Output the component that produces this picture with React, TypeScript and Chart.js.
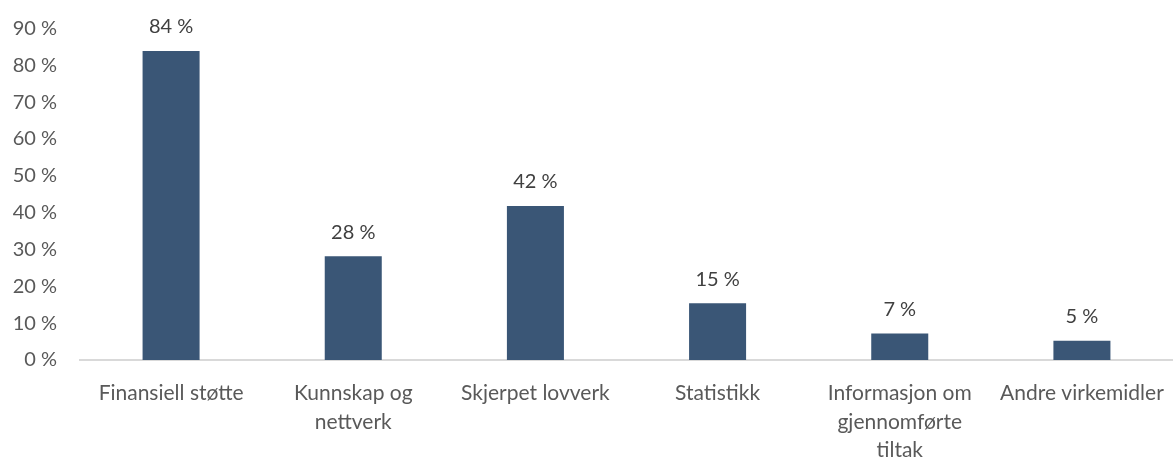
import React, { useEffect, useRef } from "react";
import { Chart, registerables } from "chart.js";

Chart.register(...registerables);

const categories: (string | string[])[] = [
  "Finansiell støtte",
  ["Kunnskap og", "nettverk"],
  "Skjerpet lovverk",
  "Statistikk",
  ["Informasjon om", "gjennomførte", "tiltak"],
  "Andre virkemidler",
];
const values = [83.9, 28.2, 41.8, 15.4, 7.2, 5.2];
const yTicks = [0, 10, 20, 30, 40, 50, 60, 70, 80, 90];

const FONT = "Lato, 'Open Sans', sans-serif";

export default function App() {
  const ref = useRef<HTMLCanvasElement | null>(null);
  useEffect(() => {
    document.body.style.margin = "0";
    const labelPlugin = {
      id: "valLabels",
      afterDatasetsDraw(chart: any) {
        const ctx = chart.ctx;
        const meta = chart.getDatasetMeta(0);
        ctx.save();
        ctx.fillStyle = "#404040";
        ctx.font = `20px ${FONT}`;
        ctx.textAlign = "center";
        ctx.textBaseline = "middle";
        meta.data.forEach((el: any, i: number) => {
          ctx.fillText(Math.round(values[i]) + " %", el.x, el.y - 24);
        });
        ctx.restore();
      },
    };
    const chart = new Chart(ref.current!, {
      type: "bar",
      data: {
        labels: categories,
        datasets: [
          {
            data: values,
            backgroundColor: "#3A5676",
            borderWidth: 0,
            categoryPercentage: 1,
            barPercentage: 0.313,
          },
        ],
      },
      options: {
        animation: false,
        responsive: false,
        maintainAspectRatio: false,
        layout: { padding: { top: 28.5, right: 0, left: 0, bottom: 0 } },
        plugins: { legend: { display: false }, tooltip: { enabled: false } },
        scales: {
          x: {
            grid: { display: false, drawTicks: false },
            border: { display: true, color: "#D9D9D9", width: 2 },
            ticks: {
              color: "#595959",
              font: { family: FONT, size: 21, lineHeight: 1.36 },
              padding: 19,
              maxRotation: 0,
              autoSkip: false,
            },
            afterFit: (s: any) => {
              s.height = 99;
              s.paddingLeft = 0;
              s.paddingRight = 0;
            },
          },
          y: {
            min: 0,
            max: 90,
            afterBuildTicks: (s: any) => {
              s.ticks = yTicks.map((v) => ({ value: v }));
            },
            grid: { display: false, drawTicks: false },
            border: { display: false },
            ticks: {
              color: "#595959",
              font: { family: FONT, size: 20 },
              padding: 23,
              callback: (v: any) => v + " %",
            },
            afterFit: (s: any) => {
              s.width = 80;
              s.paddingTop = 0;
              s.paddingBottom = 0;
            },
          },
        },
      },
      plugins: [labelPlugin],
    } as any);
    return () => chart.destroy();
  }, []);
  return (
    <div style={{ width: 1173, height: 459 }}>
      <canvas ref={ref} width={1173} height={459} style={{ display: "block" }} />
    </div>
  );
}
